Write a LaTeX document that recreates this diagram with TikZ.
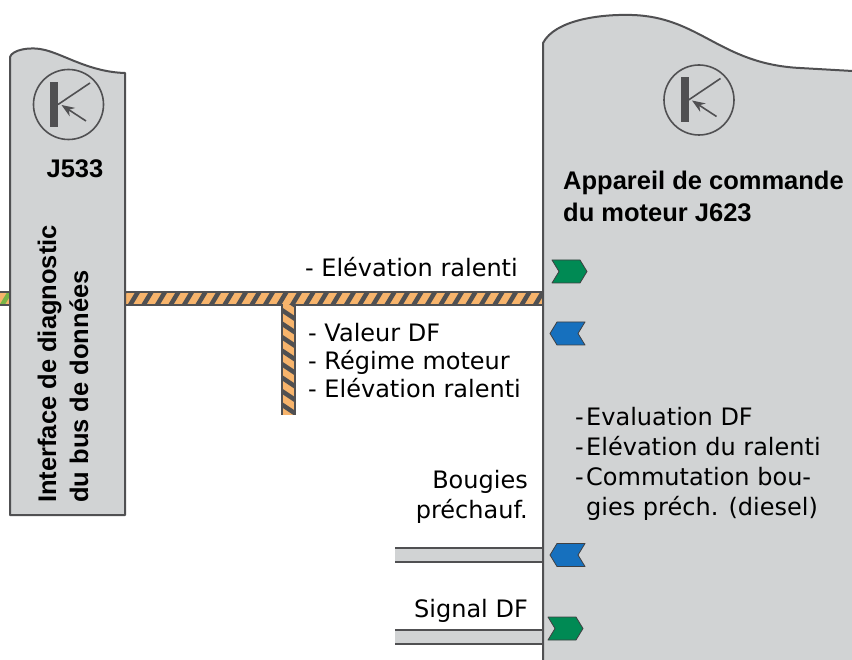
\documentclass[tikz,border=0pt]{standalone}
\usepackage{fontspec}
\setmainfont{DejaVu Sans}
\newfontfamily\grasfont{Liberation Sans}
\usepackage{tikz}
\usetikzlibrary{positioning}
\usetikzlibrary{arrows.meta}
\definecolor{gris}{RGB}{209,211,212}
\definecolor{fonce}{RGB}{80,80,82}
\definecolor{ocre}{RGB}{247,180,108}
\definecolor{vert}{RGB}{0,138,84}
\definecolor{bleu}{RGB}{22,112,190}
\definecolor{herbe}{RGB}{120,180,70}
\tikzset{
  schema/.style={
    x=1pt, y=-1pt,
    boitier/.style={fill=gris, draw=fonce, line width=2pt, line join=round},
    fil/.style={draw=fonce, line width=1.8pt},
    rayure/.style={fonce, line width=4.5pt},
    chevron/.style={draw=fonce!80!black, line width=0.8pt, line join=round},
    texte/.style={font=\fontsize{24}{29.5}\selectfont, inner sep=0pt, align=left},
    titre/.style={font=\grasfont\bfseries\fontsize{25.5}{32}\selectfont, inner sep=0pt, align=left},
  }
}
\newcommand{\tiret}{\makebox[11pt][l]{-}}
\newcommand{\symbole}[1]{
    \begin{scope}[shift={#1}]
    \draw[fonce, line width=1.6pt] (0,0) circle (35pt);
    \fill[fonce] (-18.5,-22.5) rectangle (-10.5,22.5);
    \draw[fonce, line width=1.6pt] (-10.5,0) -- (21.5,-21.5);
    \draw[fonce, line width=1.6pt, -{Stealth[length=13pt,width=10pt]}] (17.5,16.5) -- (-7,0.5);
    \end{scope}
}

\begin{document}
\begin{tikzpicture}[schema]
    \useasboundingbox (0,0) rectangle (852,660);

    % bus de donnees
    \coordinate (bus g) at (125,298.5);
    \coordinate (bus d) at (543,298.5);
    \fill[ocre] (0,292) rectangle (543,305);
    \fill[ocre] (282,305) rectangle (295,415);
    \begin{scope}
    \clip (0,292) rectangle (10,305);
    \foreach \x in {-12,1.5,15}
        \draw[herbe, line width=4.5pt] (\x,306) -- ++(9,-15);
    \end{scope}
    \begin{scope}
    \clip (125,292) rectangle (543,305);
    \foreach \x in {116,129.5,...,550}
        \draw[rayure] (\x,306) -- ++(9,-15);
    \end{scope}
    \begin{scope}
    \clip (282,305) rectangle (295,415);
    \foreach \y in {296,309.5,...,420}
        \draw[rayure] (281,\y) -- ++(15,10);
    \end{scope}
    \draw[fil] (0,292) -- (543,292);
    \draw[fil] (0,305) -- (282,305) -- (282,415);
    \draw[fil] (295,415) -- (295,305) -- (543,305);

    % fils
    \foreach \y in {548,630}{
        \fill[gris] (395,\y) rectangle (543,\y+14);
        \draw[fil] (395,\y) -- (543,\y);
        \draw[fil] (395,\y+14) -- (543,\y+14);
    }

    % boitiers
    \draw[boitier] (10,515) -- (10,57)
        .. controls (12,50) and (30,46) .. (45,50)
        .. controls (65,55) and (90,72) .. (125,73) -- (125,515) -- cycle;
    \draw[boitier] (543,680) -- (543,43)
        .. controls (555,20) and (600,14) .. (632,15)
        .. controls (700,17) and (720,64) .. (800,68) -- (870,72) -- (870,680) -- cycle;

    \symbole{(68.5,104.5)}
    \symbole{(699,100)}

    % signaux
    \foreach \cx/\cy/\c/\s in {569.5/271.5/vert/1, 567.5/333.5/bleu/-1,
                               567.5/555/bleu/-1, 565.5/628.5/vert/1}
        \draw[chevron, fill=\c, shift={(\cx,\cy)}, xscale=\s]
            (-17.5,-11.5) -- (10.5,-11.5) -- (17.5,0) -- (10.5,11.5)
            -- (-17.5,11.5) -- (-10.5,0) -- cycle;

    % textes (base = derniere ligne)
    \node[titre, anchor=base] (j533) at (75,178) {J533};
    \node[titre, rotate=90, anchor=base west] (interface) at (88,503)
        {Interface de diagnostic\\du bus de données};
    \node[titre, anchor=base west] (appareil) at (563,222)
        {Appareil de commande\\du moteur J623};
    \node[texte, anchor=base east] (elevation) at (518,277) {- Elévation ralenti};
    \node[texte, anchor=base west, font=\fontsize{24}{28}\selectfont] (valeurs) at (308,398)
        {- Valeur DF\\- Régime moteur\\- Elévation ralenti};
    \node[texte, anchor=base west, font=\fontsize{24}{30}\selectfont] (fonctions) at (575,515)
        {\tiret Evaluation DF\\\tiret Elévation du ralenti\\\tiret Commutation bou-\\\hphantom{\tiret}gies préch. (diesel)};
    \node[texte, anchor=base east, align=right] (bougies) at (528,518) {Bougies\\préchauf.};
    \node[texte, anchor=base east] (signal) at (528,617) {Signal DF};
\end{tikzpicture}
\end{document}
